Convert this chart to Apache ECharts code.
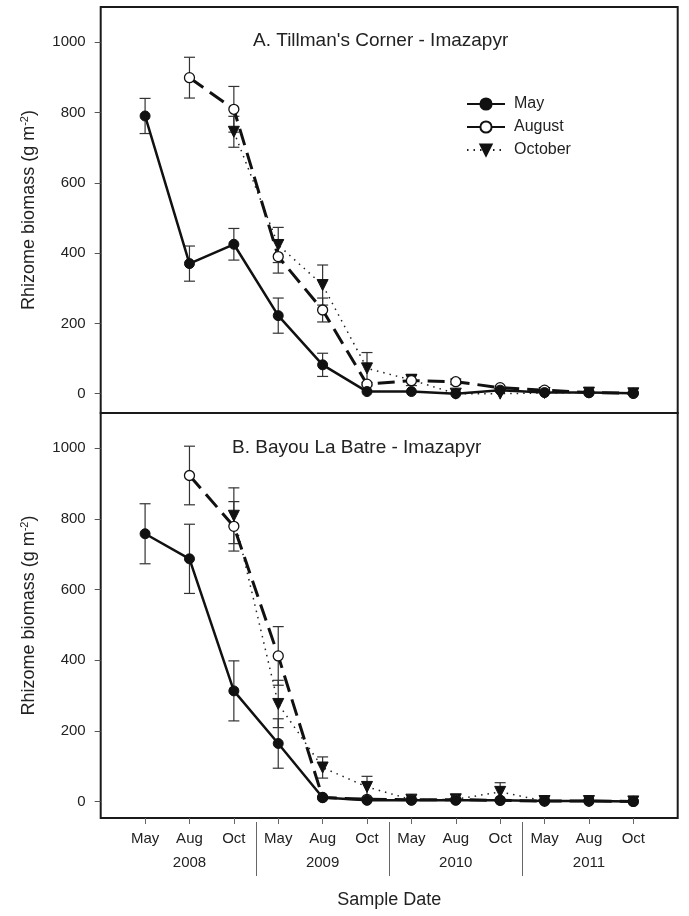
<!DOCTYPE html>
<html>
<head>
<meta charset="utf-8">
<script src="https://cdn.jsdelivr.net/npm/echarts@6/dist/echarts.min.js"></script>
<style>html,body{margin:0;padding:0;background:#fff;}#c{width:689px;height:916px;}</style>
</head>
<body>
<div id="c"></div>
<script>
// ---- data ----
const monthLabels = ['May','Aug','Oct','May','Aug','Oct','May','Aug','Oct','May','Aug','Oct'];
const yearLabels = ['2008','2009','2010','2011'];
const yearCenters = [1, 4, 7, 10];
const yearBreaks = [2.5, 5.5, 8.5];
const yTicks = [0, 200, 400, 600, 800, 1000];

// Panel A: Tillman's Corner
const mayA    = [790, 370, 425, 222, 82, 6, 6, 0, 10, 3, 3, 1];
const mayAErr = [50, 50, 45, 50, 33, 0, 0, 0, 0, 0, 0, 0];
const augA    = [null, 899, 809, 390, 238, 27, 37, 34, 17, 10, 3, 1];
const augAErr = [null, 58, 65, 47, 34, 5, 0, 8, 0, 0, 0, 0];
const octA    = [null, null, 745, 423, 309, 72, 39, 0, 0, 2, 3, 1];
const octAErr = [null, null, 44, 50, 57, 45, 16, 0, 0, 0, 0, 0];

// Panel B: Bayou La Batre
const mayB    = [758, 687, 313, 164, 11, 3, 3, 3, 3, 1, 1, 0];
const mayBErr = [85, 98, 85, 70, 0, 0, 0, 0, 0, 0, 0, 0];
const augB    = [null, 923, 779, 412, 11, 6, 5, 5, 3, 1, 1, 0];
const augBErr = [null, 83, 70, 83, 0, 0, 0, 0, 0, 0, 0, 0];
const octB    = [null, null, 809, 276, 96, 41, 5, 6, 27, 1, 1, 0];
const octBErr = [null, null, 79, 67, 30, 30, 0, 0, 26, 0, 0, 0];

// ---- helpers ----
const FONT = '"Liberation Sans", Arial, Helvetica, sans-serif';
const INK = '#111';
function pts(arr){ const o=[]; arr.forEach((v,i)=>{ if(v!==null) o.push([i,v]); }); return o; }
function errs(vals, e){ const o=[]; vals.forEach((v,i)=>{ if(v!==null && e[i]) o.push([i, v-e[i], v+e[i]]); }); return o; }
function errRender(params, api){
  const x=api.value(0), lo=api.value(1), hi=api.value(2);
  const a=api.coord([x,lo]), b=api.coord([x,hi]); const w=5.5;
  const st={stroke:'#333', lineWidth:1.2};
  return {type:'group', children:[
    {type:'line', shape:{x1:a[0],y1:a[1],x2:b[0],y2:b[1]}, style:st},
    {type:'line', shape:{x1:a[0]-w,y1:a[1],x2:a[0]+w,y2:a[1]}, style:st},
    {type:'line', shape:{x1:b[0]-w,y1:b[1],x2:b[0]+w,y2:b[1]}, style:st}
  ]};
}
const styles = {
  May:     {lineStyle:{color:INK,width:2.5,type:'solid'}, symbol:'circle', symbolSize:10, itemStyle:{color:INK,borderColor:INK,borderWidth:1}, symbolRotate:0},
  August:  {lineStyle:{color:INK,width:3,type:[17,8]}, symbol:'circle', symbolSize:10, itemStyle:{color:'#fff',borderColor:INK,borderWidth:1.3}, symbolRotate:0},
  October: {lineStyle:{color:'#222',width:1.5,type:[1.5,5]}, symbol:'triangle', symbolSize:11, itemStyle:{color:INK,borderColor:INK,borderWidth:1}, symbolRotate:180}
};
function lineSeries(name, vals, gi, z){
  const s = styles[name];
  return {name, type:'line', xAxisIndex:gi, yAxisIndex:gi, data:pts(vals), z,
    lineStyle:s.lineStyle, symbol:s.symbol, symbolSize:s.symbolSize, symbolRotate:s.symbolRotate,
    itemStyle:s.itemStyle, showSymbol:true, animation:false, emphasis:{disabled:true}};
}
function errSeries(vals, e, gi){
  return {type:'custom', xAxisIndex:gi, yAxisIndex:gi, data:errs(vals,e), renderItem:errRender, z:1, animation:false, silent:true};
}
const yName = {
  name:'Rhizome biomass (g m{sup|-2})', nameLocation:'middle', nameGap:62,
  nameTextStyle:{fontFamily:FONT, fontSize:18, color:'#222', rich:{sup:{fontSize:11, verticalAlign:'top', padding:[0,0,8,0], fontFamily:FONT, color:'#222'}}}
};
function yAxis(gi, min){
  return Object.assign({type:'value', gridIndex:gi, min:min, max:1100,
    axisLine:{show:false, onZero:false}, splitLine:{show:false},
    axisTick:{show:true, inside:false, length:6, lineStyle:{color:'#555', width:1}, customValues:yTicks},
    axisLabel:{show:true, margin:15, fontFamily:FONT, fontSize:15, color:'#222', customValues:yTicks, formatter:(v)=>String(v)}
  }, yName);
}
const monthIdx = monthLabels.map((m,i)=>i);

const option = {
  animation:false,
  backgroundColor:'#fff',
  title:[
    {text:"A. Tillman's Corner - Imazapyr", left:253, top:31, textStyle:{fontFamily:FONT, fontSize:19, fontWeight:'normal', color:'#222'}, padding:0},
    {text:'B. Bayou La Batre - Imazapyr', left:232, top:438, textStyle:{fontFamily:FONT, fontSize:19, fontWeight:'normal', color:'#222'}, padding:0}
  ],
  legend:{
    data:['May','August','October'], orient:'vertical', left:466, top:96,
    itemWidth:38, itemHeight:14, itemGap:7, padding:0,
    textStyle:{fontFamily:FONT, fontSize:16, color:'#222', padding:[0,0,0,4]},
    selectedMode:false
  },
  grid:[
    {left:100.7, right:11.3, top:7, height:406, show:true, borderColor:'#1a1a1a', borderWidth:2, backgroundColor:'transparent'},
    {left:100.7, right:11.3, top:413, height:405, show:true, borderColor:'#1a1a1a', borderWidth:2, backgroundColor:'transparent'}
  ],
  xAxis:[
    {type:'value', gridIndex:0, min:-1, max:12, axisLine:{show:false, onZero:false}, axisTick:{show:false}, axisLabel:{show:false}, splitLine:{show:false}},
    {type:'value', gridIndex:1, min:-1, max:12, position:'bottom', axisLine:{show:false, onZero:false}, splitLine:{show:false},
      axisTick:{show:true, length:6, lineStyle:{color:'#666', width:1}, customValues:monthIdx},
      axisLabel:{show:true, margin:13, fontFamily:FONT, fontSize:15, color:'#222', customValues:monthIdx, formatter:(v)=>monthLabels[Math.round(v)]},
      name:'Sample Date', nameLocation:'middle', nameGap:73, nameTextStyle:{fontFamily:FONT, fontSize:18, color:'#222'}
    },
    {type:'value', gridIndex:1, min:-1, max:12, position:'bottom', offset:4, axisLine:{show:false, onZero:false}, splitLine:{show:false},
      axisTick:{show:true, length:54, lineStyle:{color:'#666', width:1}, customValues:yearBreaks},
      axisLabel:{show:true, margin:33, fontFamily:FONT, fontSize:15, color:'#222', customValues:yearCenters, formatter:(v)=>yearLabels[yearCenters.indexOf(Math.round(v))]}
    }
  ],
  yAxis:[ yAxis(0, -55), yAxis(1, -47) ],
  series:[
    errSeries(mayA, mayAErr, 0), errSeries(augA, augAErr, 0), errSeries(octA, octAErr, 0),
    lineSeries('October', octA, 0, 3), lineSeries('August', augA, 0, 4), lineSeries('May', mayA, 0, 5),
    Object.assign(errSeries(mayB, mayBErr, 1), {xAxisIndex:1}), Object.assign(errSeries(augB, augBErr, 1), {xAxisIndex:1}), Object.assign(errSeries(octB, octBErr, 1), {xAxisIndex:1}),
    Object.assign(lineSeries('October', octB, 1, 3), {xAxisIndex:1}),
    Object.assign(lineSeries('August', augB, 1, 4), {xAxisIndex:1}),
    Object.assign(lineSeries('May', mayB, 1, 5), {xAxisIndex:1})
  ]
};
const chart = echarts.init(document.getElementById('c'), null, {renderer:'canvas'});
chart.setOption(option);
</script>
</body>
</html>
